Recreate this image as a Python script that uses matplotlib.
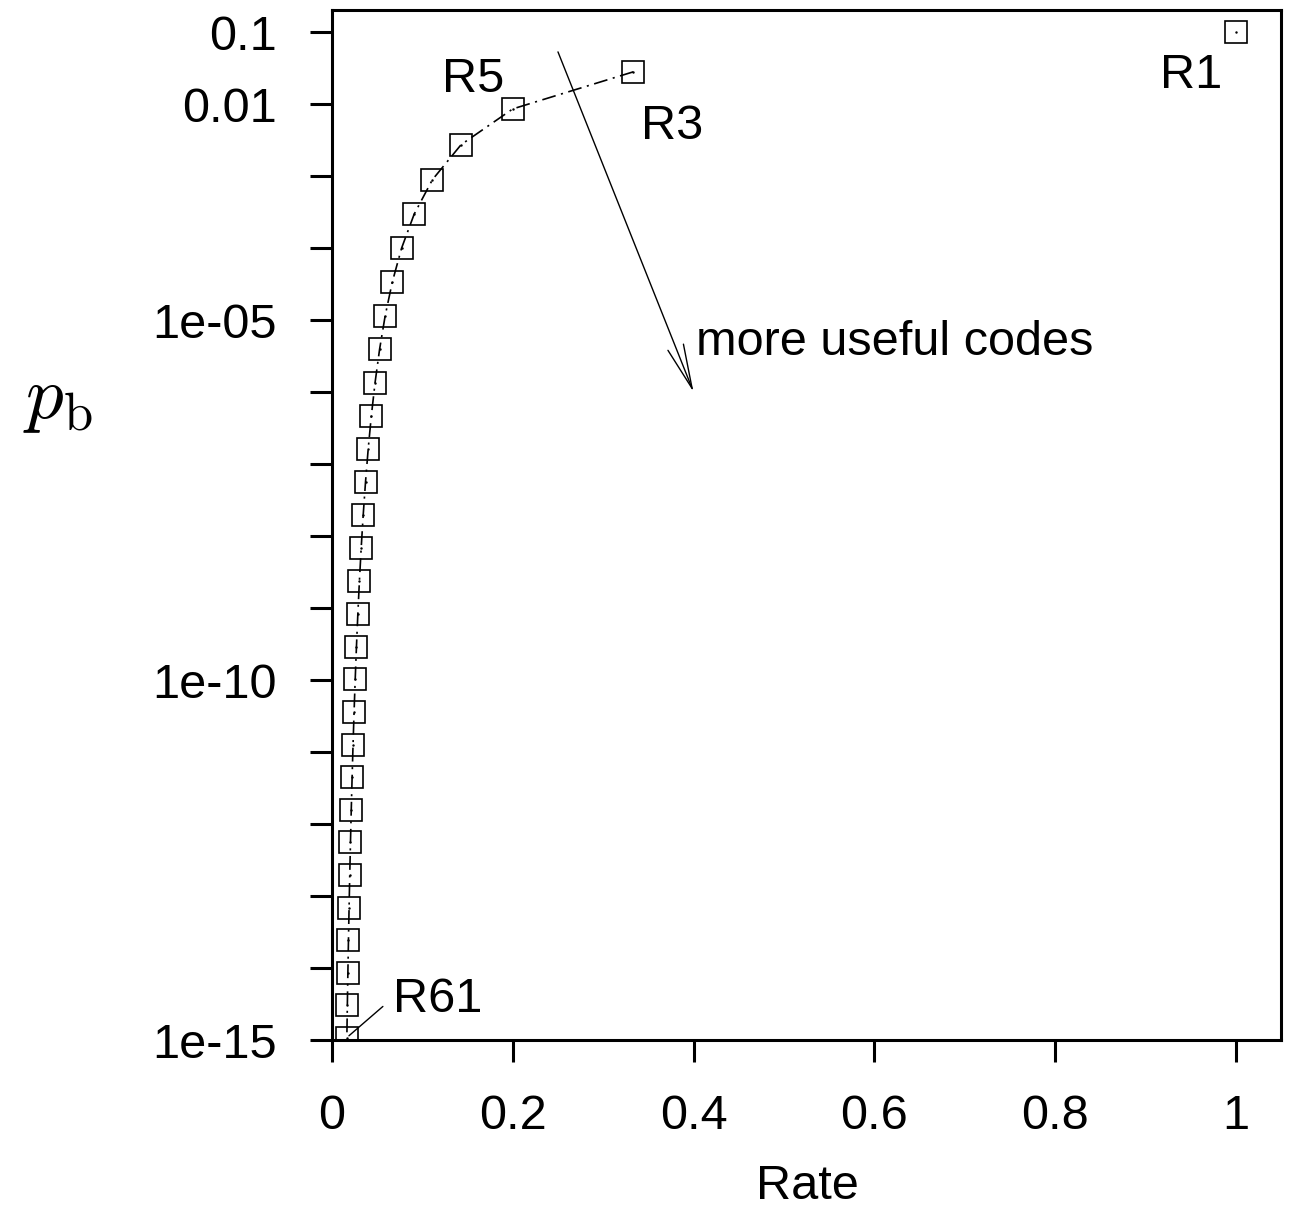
import matplotlib
matplotlib.use("Agg")
import matplotlib.pyplot as plt
from matplotlib.ticker import FixedLocator, FixedFormatter

plt.rcParams["font.family"] = ["Liberation Sans", "DejaVu Sans"]
plt.rcParams["mathtext.fontset"] = "cm"
plt.rcParams["lines.scale_dashes"] = False

# repetition codes R1, R3, ..., R61
code_len = [1, 3, 5, 7, 9, 11, 13, 15, 17, 19, 21, 23, 25, 27, 29, 31,
            33, 35, 37, 39, 41, 43, 45, 47, 49, 51, 53, 55, 57, 59, 61]
rate = [1 / n for n in code_len]
pb = [0.1, 0.028, 8.56e-3, 2.73e-3, 8.91e-4, 2.96e-4, 9.93e-5, 3.36e-5,
      1.15e-5, 3.93e-6, 1.35e-6, 4.66e-7, 1.61e-7, 5.60e-8, 1.95e-8,
      6.80e-9, 2.38e-9, 8.31e-10, 2.91e-10, 1.02e-10, 3.59e-11, 1.26e-11,
      4.45e-12, 1.57e-12, 5.54e-13, 1.96e-13, 6.91e-14, 2.44e-14,
      8.64e-15, 3.06e-15, 1.08e-15]

x_ticks = [0, 0.2, 0.4, 0.6, 0.8, 1]
x_labels = ["0", "0.2", "0.4", "0.6", "0.8", "1"]
y_ticks = [10.0 ** k for k in range(-15, 0)]
y_shown = {-1: "0.1", -2: "0.01", -5: "1e-05", -10: "1e-10", -15: "1e-15"}
y_labels = [y_shown.get(k, "") for k in range(-15, 0)]

FS = 35

fig = plt.figure(figsize=(12.98, 12.11), dpi=100)
ax = fig.add_axes([0.2558, 0.1412, 0.7311, 0.8505])

# dashed curve from R3 down to R61
ax.plot(rate[1:], pb[1:], color="black", lw=1.2,
        dashes=(10, 4, 1.5, 4), zorder=2)
ax.plot(rate, pb, linestyle="none", marker="s", markersize=16,
        markerfacecolor="none", markeredgecolor="black",
        markeredgewidth=1.2, zorder=3)
ax.plot(rate, pb, linestyle="none", marker=".", markersize=1.5,
        color="black", zorder=3)

ax.set_yscale("log")
ax.set_xlim(0, 1.05)
ax.set_ylim(1e-15, 0.202)

ax.xaxis.set_major_locator(FixedLocator(x_ticks))
ax.xaxis.set_major_formatter(FixedFormatter(x_labels))
ax.yaxis.set_major_locator(FixedLocator(y_ticks))
ax.yaxis.set_major_formatter(FixedFormatter(y_labels))
ax.yaxis.set_minor_locator(FixedLocator([]))

ax.tick_params(axis="both", direction="out", length=16, width=2.2,
               labelsize=FS)
ax.tick_params(axis="x", pad=23)
ax.tick_params(axis="y", pad=24)
ax.tick_params(top=False, right=False)
for side in ax.spines.values():
    side.set_linewidth(2.2)

ax.set_xlabel("Rate", fontsize=FS)
ax.xaxis.set_label_coords(0.5005, -0.142)
ax.xaxis.label.set_va("center")
ax.set_ylabel(r"$p_\mathrm{b}$", fontsize=54, rotation=0)
ax.yaxis.set_label_coords(-0.2887, 0.621)
ax.yaxis.label.set_va("center")
ax.yaxis.label.set_ha("center")

ax.text(0.951, 0.025, "R1", fontsize=FS, ha="center", va="center")
ax.text(0.376, 0.0048, "R3", fontsize=FS, ha="center", va="center")
ax.text(0.156, 0.0216, "R5", fontsize=FS, ha="center", va="center")
ax.annotate("", xy=(1 / 61, 1.08e-15), xytext=(0.0586, 3.1e-15),
            arrowprops=dict(arrowstyle="-", color="black", lw=1.0))
ax.text(0.0675, 3.6e-15, "R61", fontsize=FS, ha="left", va="center")

ax.annotate("", xy=(0.4, 1e-6), xytext=(0.25, 0.053),
            arrowprops=dict(arrowstyle="->,head_length=1.6,head_width=0.3",
                            mutation_scale=20, color="black", lw=1.0,
                            shrinkA=0, shrinkB=0))
ax.text(0.403, 4.8e-6, "more useful codes", fontsize=FS,
        ha="left", va="center")

fig.savefig("out.png", dpi=100)
